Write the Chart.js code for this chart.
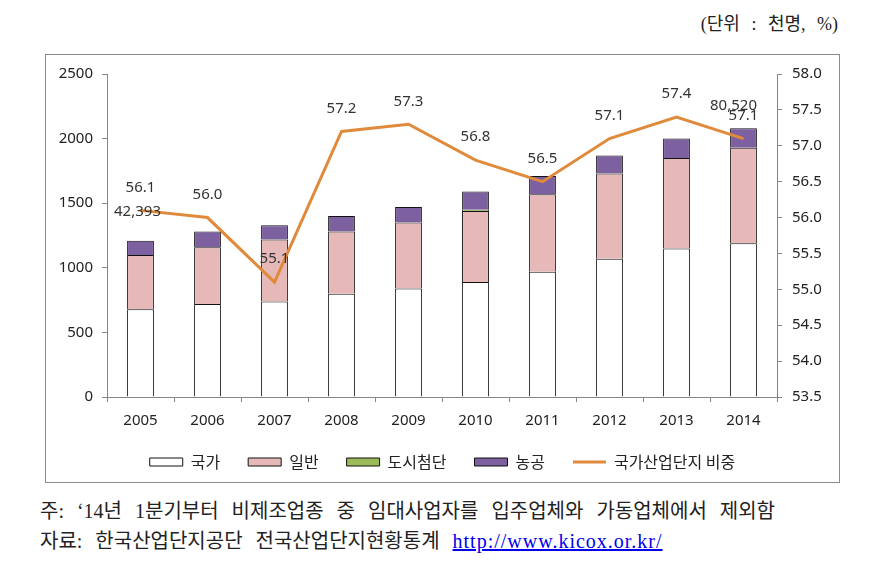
<!DOCTYPE html>
<html>
<head>
<meta charset="utf-8">
<script src="https://cdn.jsdelivr.net/npm/chart.js@4.4.1/dist/chart.umd.min.js"></script>
<style>
  body { margin: 0; background: #fff; width: 886px; height: 568px; position: relative; overflow: hidden; }
  #unit { position: absolute; right: 48px; top: 9px; font: 18px "Liberation Serif", "Noto Sans CJK KR", serif; color: #222; word-spacing: 7px; }
  #box { position: absolute; left: 45px; top: 54px; width: 793px; height: 427px; border: 1px solid #8a8a8a; }
  .note { position: absolute; left: 40px; font: 20px "Liberation Serif", "Noto Sans CJK KR", serif; color: #222; white-space: nowrap; word-spacing: 8px; }
  #note1 { top: 495px; }
  #note2 { top: 525px; }
  .note a { color: #0000ee; text-decoration: underline; letter-spacing: 1px; word-spacing: 0; }
</style>
</head>
<body>
<div id="unit">(단위 : 천명, %)</div>
<div id="box"><canvas id="chart"></canvas></div>
<div class="note" id="note1">주: ‘14년 1분기부터 비제조업종 중 임대사업자를 입주업체와 가동업체에서 제외함</div>
<div class="note" id="note2">자료: 한국산업단지공단 전국산업단지현황통계 <a href="#">http://www.kicox.or.kr/</a></div>
<script>
// 연도별 산업단지 고용 (천명) 과 국가산업단지 비중 (%)
const years = ['2005', '2006', '2007', '2008', '2009', '2010', '2011', '2012', '2013', '2014'];
const national = [680, 720, 740, 800, 840, 890, 970, 1070, 1150, 1190];
const general = [420, 440, 480, 480, 510, 550, 600, 660, 700, 740];
const urbanHiTech = [null, null, null, null, null, 10, null, null, null, null];
const agroIndustrial = [110, 120, 110, 120, 120, 140, 140, 140, 150, 150];
const nationalShare = [56.1, 56.0, 55.1, 57.2, 57.3, 56.8, 56.5, 57.1, 57.4, 57.1];
const extraNotes = ['42,393', null, null, null, null, null, null, null, null, '80,520'];

const leftTicks = { min: 0, max: 2500, step: 500 };
const rightTicks = { min: 53.5, max: 58.0, step: 0.5 };

const axisColor = '#868686';
const tickFont = { family: 'Noto Sans, Noto Sans CJK KR', size: 15 };

// 선 위에 값 라벨과 보조 숫자 표시
const lineLabels = {
    id: 'lineLabels',
    afterDatasetsDraw(chart) {
        const meta = chart.getDatasetMeta(4);
        const ctx = chart.ctx;
        ctx.save();
        ctx.font = '15px Noto Sans, Noto Sans CJK KR';
        ctx.fillStyle = '#333';
        ctx.textAlign = 'center';
        ctx.textBaseline = 'middle';
        meta.data.forEach((pt, i) => {
            ctx.fillText(nationalShare[i].toFixed(1), pt.x, pt.y - 23);
            if (extraNotes[i]) {
                const dy = i === 0 ? 1 : -33;
                const dx = i === 0 ? -3 : -10;
                ctx.fillText(extraNotes[i], pt.x + dx, pt.y + dy);
            }
        });
        ctx.restore();
    }
};

new Chart(document.getElementById('chart'), {
    type: 'bar',
    data: {
        labels: years,
        datasets: [
            { label: '국가', data: national, backgroundColor: '#ffffff', borderColor: '#111', borderWidth: 1, order: 1, yAxisID: 'y', pointStyle: 'rect' },
            { label: '일반', data: general, backgroundColor: '#e6b9b8', borderColor: '#111', borderWidth: 1, order: 1, yAxisID: 'y', pointStyle: 'rect' },
            { label: '도시첨단', data: urbanHiTech, backgroundColor: '#9bbb59', borderColor: '#111', borderWidth: 1, order: 1, yAxisID: 'y', pointStyle: 'rect' },
            { label: '농공', data: agroIndustrial, backgroundColor: '#7d60a0', borderColor: '#111', borderWidth: 1, order: 1, yAxisID: 'y', pointStyle: 'rect' },
            { type: 'line', label: '국가산업단지 비중', data: nationalShare, borderColor: '#e08a3c', backgroundColor: '#e08a3c', borderWidth: 3, pointRadius: 0, tension: 0, order: 0, yAxisID: 'y1', pointStyle: 'line' }
        ]
    },
    options: {
        responsive: true,
        maintainAspectRatio: false,
        animation: false,
        layout: { padding: { top: 17, bottom: 2, left: 0, right: 0 } },
        datasets: { bar: { categoryPercentage: 1, barPercentage: 0.4 } },
        plugins: {
            tooltip: { enabled: false },
            legend: {
                position: 'bottom',
                labels: {
                    usePointStyle: true,
                    pointStyleWidth: 33,
                    boxHeight: 8,
                    padding: 28,
                    color: '#222',
                    font: { family: 'Noto Sans CJK KR', size: 16 },
                    sort: (a, b) => a.datasetIndex - b.datasetIndex
                }
            }
        },
        scales: {
            x: {
                stacked: true,
                grid: { drawOnChartArea: false, color: axisColor, tickLength: 5, offset: true },
                border: { color: axisColor },
                ticks: { color: '#222', font: tickFont, padding: 10 },
                afterFit: s => { s.height = 29; }
            },
            y: {
                stacked: true,
                position: 'left',
                min: leftTicks.min, max: leftTicks.max,
                grid: { drawOnChartArea: false, color: axisColor, tickLength: 5 },
                border: { color: axisColor },
                ticks: { stepSize: leftTicks.step, color: '#222', font: tickFont, padding: 9, callback: v => String(v) },
                afterFit: s => { s.width = 61; }
            },
            y1: {
                position: 'right',
                min: rightTicks.min, max: rightTicks.max,
                grid: { drawOnChartArea: false, color: axisColor, tickLength: 5 },
                border: { color: axisColor },
                ticks: { stepSize: rightTicks.step, color: '#222', font: tickFont, padding: 10, callback: v => v.toFixed(1) },
                afterFit: s => { s.width = 62; }
            }
        }
    },
    plugins: [lineLabels]
});
</script>
</body>
</html>
